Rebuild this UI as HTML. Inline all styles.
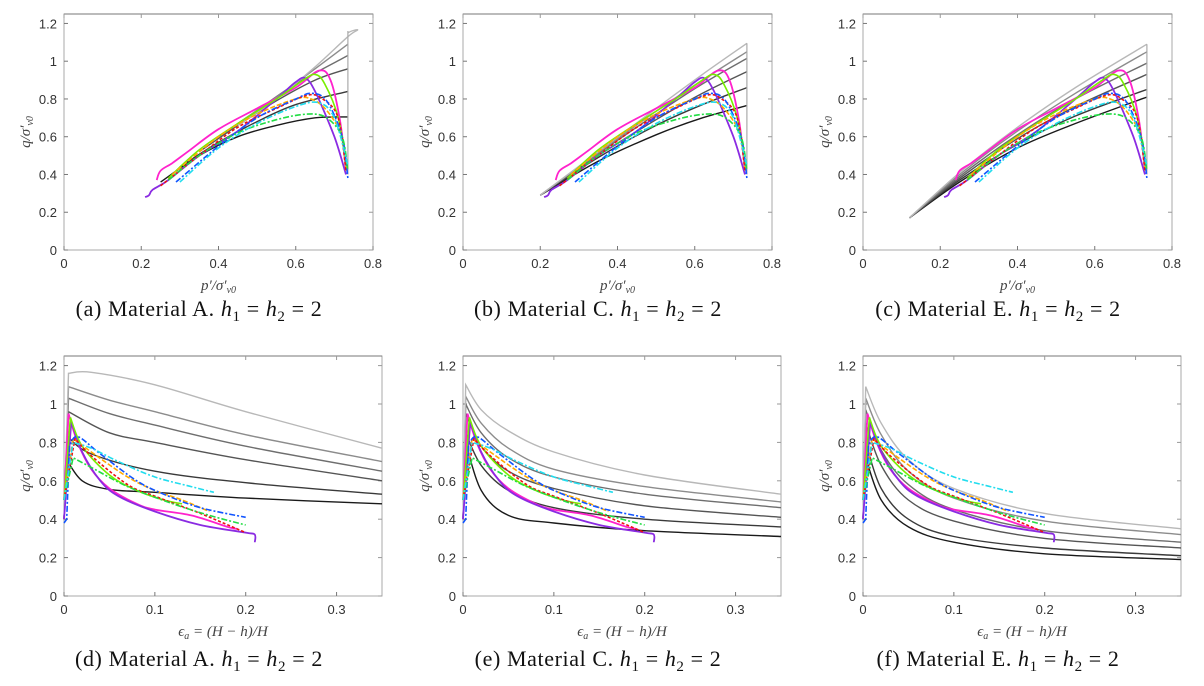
<!DOCTYPE html>
<html><head><meta charset="utf-8">
<style>
html,body{margin:0;padding:0;background:#fff;}
svg{display:block;}
.tick{font-family:"Liberation Sans",sans-serif;font-size:13px;fill:#333;}
.lab{font-family:"Liberation Serif",serif;font-style:italic;font-size:15px;fill:#444;}
.cap{font-family:"Liberation Serif",serif;font-size:22px;fill:#111;letter-spacing:0.6px;}
</style></head>
<body>
<svg id="fig" width="1204" height="686" viewBox="0 0 1204 686"></svg>
<script>
// ---- data ----
const pqTicksX=[0,0.2,0.4,0.6,0.8];
const pqTicksY=[0,0.2,0.4,0.6,0.8,1,1.2];
const epsTicksX=[0,0.1,0.2,0.3];
const qTicksY=[0,0.2,0.4,0.6,0.8,1,1.2];

// experimental series in p'-q space
const pqMagenta=[[0.24,0.37],[0.25,0.42],[0.28,0.46],[0.32,0.52],[0.4,0.64],[0.5,0.75],[0.6,0.86],[0.66,0.95],[0.69,0.9],[0.715,0.68],[0.73,0.42]];
const pqPurple=[[0.21,0.28],[0.22,0.29],[0.23,0.32],[0.27,0.37],[0.35,0.5],[0.45,0.63],[0.55,0.8],[0.6,0.89],[0.625,0.91],[0.65,0.84],[0.7,0.6],[0.73,0.4]];
const pqLime=[[0.27,0.38],[0.35,0.53],[0.45,0.67],[0.55,0.8],[0.62,0.9],[0.65,0.93],[0.675,0.88],[0.71,0.7],[0.73,0.45]];
const pqOrange=[[0.28,0.4],[0.4,0.6],[0.5,0.72],[0.6,0.8],[0.64,0.8],[0.68,0.74],[0.72,0.6],[0.73,0.42]];
const pqRed=[[0.25,0.34],[0.35,0.5],[0.45,0.65],[0.55,0.75],[0.63,0.82],[0.67,0.8],[0.71,0.7],[0.73,0.42]];
const pqBlue=[[0.29,0.36],[0.4,0.55],[0.5,0.7],[0.6,0.8],[0.64,0.83],[0.68,0.79],[0.72,0.6],[0.735,0.38]];
const pqGreen=[[0.27,0.37],[0.35,0.5],[0.45,0.62],[0.55,0.69],[0.63,0.72],[0.68,0.7],[0.72,0.6],[0.735,0.42]];
const pqCyan=[[0.3,0.36],[0.4,0.54],[0.5,0.67],[0.6,0.76],[0.66,0.78],[0.7,0.7],[0.735,0.45]];

// experimental series in eps-q space
const eqMagenta=[[0,0.5],[0.005,0.95],[0.015,0.8],[0.03,0.66],[0.05,0.56],[0.08,0.48],[0.1,0.45],[0.14,0.42],[0.18,0.36],[0.19,0.35]];
const eqPurple=[[0,0.4],[0.008,0.91],[0.02,0.75],[0.04,0.6],[0.06,0.52],[0.1,0.44],[0.15,0.37],[0.2,0.33],[0.21,0.32],[0.21,0.28]];
const eqLime=[[0,0.5],[0.007,0.93],[0.02,0.78],[0.05,0.63],[0.08,0.55],[0.11,0.5],[0.13,0.48]];
const eqOrange=[[0,0.5],[0.01,0.82],[0.03,0.75],[0.07,0.62],[0.1,0.55],[0.13,0.5],[0.16,0.44]];
const eqRed=[[0,0.5],[0.012,0.82],[0.03,0.73],[0.07,0.58],[0.1,0.52],[0.15,0.43],[0.2,0.33]];
const eqBlue=[[0,0.38],[0.003,0.4],[0.006,0.78],[0.015,0.83],[0.04,0.74],[0.08,0.6],[0.11,0.53],[0.15,0.46],[0.2,0.41]];
const eqGreen=[[0,0.5],[0.01,0.72],[0.03,0.67],[0.07,0.57],[0.12,0.48],[0.16,0.42],[0.2,0.37]];
const eqCyan=[[0,0.5],[0.01,0.8],[0.03,0.77],[0.06,0.7],[0.1,0.62],[0.14,0.57],[0.165,0.54]];

// model curves p'-q
const modelA=[
 [[0.25,0.36],[0.35,0.5],[0.45,0.6],[0.55,0.66],[0.65,0.7],[0.735,0.705]],
 [[0.3,0.44],[0.4,0.57],[0.5,0.68],[0.6,0.77],[0.735,0.84]],
 [[0.35,0.52],[0.45,0.66],[0.55,0.79],[0.65,0.9],[0.735,0.96]],
 [[0.4,0.6],[0.5,0.74],[0.6,0.88],[0.735,1.03]],
 [[0.45,0.67],[0.55,0.81],[0.65,0.96],[0.735,1.09]],
 [[0.45,0.66],[0.55,0.8],[0.65,0.97],[0.735,1.13],[0.76,1.165],[0.745,1.16],[0.735,1.15]]];
const modelC=[
 [[0.2,0.29],[0.35,0.47],[0.5,0.61],[0.62,0.7],[0.735,0.765]],
 [[0.2,0.29],[0.35,0.49],[0.5,0.66],[0.62,0.77],[0.735,0.86]],
 [[0.2,0.29],[0.35,0.5],[0.5,0.69],[0.62,0.83],[0.735,0.945]],
 [[0.2,0.29],[0.35,0.51],[0.5,0.72],[0.62,0.88],[0.735,1.015]],
 [[0.2,0.29],[0.35,0.515],[0.5,0.735],[0.62,0.9],[0.735,1.05]],
 [[0.2,0.29],[0.35,0.52],[0.5,0.75],[0.62,0.93],[0.735,1.095]]];
const modelE=[
 [[0.12,0.17],[0.25,0.36],[0.4,0.54],[0.55,0.67],[0.735,0.81]],
 [[0.12,0.17],[0.25,0.37],[0.4,0.56],[0.55,0.71],[0.735,0.85]],
 [[0.12,0.17],[0.25,0.38],[0.4,0.59],[0.55,0.76],[0.735,0.93]],
 [[0.12,0.17],[0.25,0.39],[0.4,0.61],[0.55,0.8],[0.735,0.99]],
 [[0.12,0.17],[0.25,0.4],[0.4,0.63],[0.55,0.83],[0.735,1.05]],
 [[0.12,0.17],[0.25,0.41],[0.4,0.65],[0.55,0.86],[0.735,1.09]]];
// model curves eps-q
const modelAe=[
 [[0,0.4],[0.003,0.71],[0.02,0.6],[0.05,0.555],[0.1,0.54],[0.2,0.51],[0.35,0.48]],
 [[0,0.4],[0.004,0.83],[0.03,0.74],[0.1,0.65],[0.2,0.59],[0.35,0.53]],
 [[0,0.4],[0.005,0.96],[0.05,0.85],[0.1,0.8],[0.2,0.71],[0.35,0.6]],
 [[0,0.4],[0.005,1.03],[0.05,0.95],[0.1,0.89],[0.2,0.78],[0.35,0.65]],
 [[0,0.4],[0.005,1.09],[0.05,1.02],[0.1,0.96],[0.2,0.84],[0.35,0.7]],
 [[0,0.4],[0.005,1.16],[0.03,1.165],[0.1,1.1],[0.2,0.96],[0.35,0.77]]];
const modelCe=[
 [[0,0.4],[0.003,0.8],[0.02,0.55],[0.05,0.42],[0.1,0.38],[0.2,0.34],[0.35,0.31]],
 [[0,0.4],[0.003,0.85],[0.02,0.68],[0.05,0.55],[0.1,0.46],[0.2,0.4],[0.35,0.36]],
 [[0,0.4],[0.003,0.95],[0.02,0.78],[0.05,0.65],[0.1,0.56],[0.2,0.47],[0.35,0.41]],
 [[0,0.4],[0.003,1.0],[0.02,0.85],[0.05,0.72],[0.1,0.62],[0.2,0.53],[0.35,0.46]],
 [[0,0.4],[0.003,1.04],[0.02,0.9],[0.05,0.77],[0.1,0.66],[0.2,0.57],[0.35,0.49]],
 [[0,0.4],[0.003,1.1],[0.02,0.97],[0.05,0.86],[0.1,0.75],[0.2,0.63],[0.35,0.53]]];
const modelEe=[
 [[0,0.4],[0.003,0.72],[0.02,0.5],[0.05,0.36],[0.1,0.28],[0.2,0.22],[0.35,0.19]],
 [[0,0.4],[0.003,0.8],[0.02,0.56],[0.05,0.4],[0.1,0.31],[0.2,0.25],[0.35,0.21]],
 [[0,0.4],[0.003,0.9],[0.02,0.68],[0.05,0.5],[0.1,0.39],[0.2,0.3],[0.35,0.25]],
 [[0,0.4],[0.003,0.97],[0.02,0.76],[0.05,0.58],[0.1,0.45],[0.2,0.34],[0.35,0.28]],
 [[0,0.4],[0.003,1.03],[0.02,0.84],[0.05,0.65],[0.1,0.51],[0.2,0.39],[0.35,0.32]],
 [[0,0.4],[0.003,1.09],[0.02,0.9],[0.05,0.71],[0.1,0.56],[0.2,0.43],[0.35,0.35]]];
const verticalEnd=[1.16,1.095,1.09];

// ---- drawing ----
const NS='http://www.w3.org/2000/svg';
const svg=document.getElementById('fig');
const grays=['#1a1a1a','#3a3a3a','#555','#6e6e6e','#8c8c8c','#b8b8b8'];
const expStyles=[
 ['experiment-magenta',pqMagenta,eqMagenta,'#ff22cc','',1.8],
 ['experiment-purple',pqPurple,eqPurple,'#8a2be2','',1.8],
 ['experiment-lime',pqLime,eqLime,'#77ee00','',1.6],
 ['experiment-orange',pqOrange,eqOrange,'#ffaa00','5,2',1.6],
 ['experiment-red',pqRed,eqRed,'#ee1111','3,2',1.6],
 ['experiment-blue',pqBlue,eqBlue,'#1155ff','6,2,2,2',1.6],
 ['experiment-green',pqGreen,eqGreen,'#22dd44','6,2,2,2',1.6],
 ['experiment-cyan',pqCyan,eqCyan,'#22ddee','6,2,2,2',1.6]];

function mk(tag,attrs,parent){const e=document.createElementNS(NS,tag);for(const k in attrs)e.setAttribute(k,attrs[k]);(parent||svg).appendChild(e);return e;}
// sharp: number of leading points joined with straight lines (no spline overshoot at jumps)
function pathD(pts,sx,sy,sharp){
  let d='M'+sx(pts[0][0]).toFixed(1)+','+sy(pts[0][1]).toFixed(1);
  let start=0;
  for(let i=1;i<=sharp&&i<pts.length;i++){d+=' L'+sx(pts[i][0]).toFixed(1)+','+sy(pts[i][1]).toFixed(1);start=i;}
  for(let i=start;i<pts.length-1;i++){
    const p0=pts[Math.max(i-1,start)],p1=pts[i],p2=pts[i+1],p3=pts[Math.min(i+2,pts.length-1)];
    const x1=sx(p1[0])+(sx(p2[0])-sx(p0[0]))/6,y1=sy(p1[1])+(sy(p2[1])-sy(p0[1]))/6;
    const x2=sx(p2[0])-(sx(p3[0])-sx(p1[0]))/6,y2=sy(p2[1])-(sy(p3[1])-sy(p1[1]))/6;
    d+=' C'+x1.toFixed(1)+','+y1.toFixed(1)+' '+x2.toFixed(1)+','+y2.toFixed(1)+' '+sx(p2[0]).toFixed(1)+','+sy(p2[1]).toFixed(1);
  }
  return d;
}
function panel(ox,top,bottom,right,xmax,xt,yt,models,isPQ,vEnd,capText,xlabel,id){
  const L=ox+64,T=top,B=bottom,R=ox+right;
  const g=mk('g',{});
  
  
  const sx=v=>L+v/xmax*(R-L), sy=v=>B-v/1.25*(B-T);
  const box=mk('rect',{x:L,y:T,width:R-L,height:B-T,fill:'none',stroke:'#aaa','stroke-width':1},g);
  
  
  mk('line',{x1:L,y1:T,x2:R,y2:T,stroke:'#777','stroke-width':1},g);
  xt.forEach(v=>{const x=sx(v);
    mk('line',{x1:x,y1:B,x2:x,y2:B-4,stroke:'#777'},g);mk('line',{x1:x,y1:T,x2:x,y2:T+4,stroke:'#999'},g);
    const t=mk('text',{x:x,y:B+18,'text-anchor':'middle',class:'tick'},g);t.textContent=String(v);
    
    });
  yt.forEach(v=>{const y=sy(v);
    mk('line',{x1:L,y1:y,x2:L+4,y2:y,stroke:'#777'},g);mk('line',{x1:R,y1:y,x2:R-4,y2:y,stroke:'#999'},g);
    const t=mk('text',{x:L-7,y:y+5,'text-anchor':'end',class:'tick'},g);t.textContent=String(v);
    
    });
  const sharp=isPQ?0:1;
  models.forEach((m,i)=>{const p=mk('path',{d:pathD(m,sx,sy,sharp),fill:'none',stroke:grays[i],'stroke-width':1.4},g);
    
    });
  if(isPQ){const v=mk('line',{x1:sx(0.735),y1:sy(0.4),x2:sx(0.735),y2:sy(vEnd),stroke:'#aaa','stroke-width':1.2},g);
    
    }
  expStyles.forEach(s=>{const pts=isPQ?s[1]:s[2];
    const p=mk('path',{d:pathD(pts,sx,sy,isPQ?0:(s[0]==='experiment-blue'?2:1)),fill:'none',stroke:s[3],'stroke-width':s[5],'stroke-dasharray':s[4]},g);
    
    });
  const xl=mk('text',{x:(L+R)/2,y:B+40,'text-anchor':'middle',class:'lab'},g);xl.innerHTML=xlabel;
  
  
  const cy=(T+B)/2;
  const yl=mk('text',{x:0,y:0,'text-anchor':'middle',class:'lab',transform:'translate('+(ox+30)+','+cy+') rotate(-90)'},g);
  yl.innerHTML='q/σ′<tspan font-size="10" dy="3">v0</tspan>';
  
  
  const c=mk('text',{x:ox+199,y:B+(isPQ?66:70),'text-anchor':'middle',class:'cap'},g);c.innerHTML=capText;
  
  
}
const pqLabel="p′/σ′<tspan font-size='10' dy='3'>v0</tspan>";
const eLabel="ϵ<tspan font-size='10' dy='3'>a</tspan><tspan dy='-3'> = (H − h)/H</tspan>";
function cap(l,m){return '('+l+') Material '+m+'. <tspan font-style="italic">h</tspan><tspan font-size="15" dy="5">1</tspan><tspan dy="-5"> = </tspan><tspan font-style="italic">h</tspan><tspan font-size="15" dy="5">2</tspan><tspan dy="-5"> = 2</tspan>';}
const offs=[0,399,799];
const topModels=[modelA,modelC,modelE],botModels=[modelAe,modelCe,modelEe],mats=['A','C','E'];
for(let i=0;i<3;i++){
  panel(offs[i],14,250,373,0.8,pqTicksX,pqTicksY,topModels[i],true,verticalEnd[i],cap('abc'[i],mats[i]),pqLabel,'abc'[i]);
  panel(offs[i],356,596,382,0.35,epsTicksX,qTicksY,botModels[i],false,0,cap('def'[i],mats[i]),eLabel,'def'[i]);
}
</script>
</body></html>
